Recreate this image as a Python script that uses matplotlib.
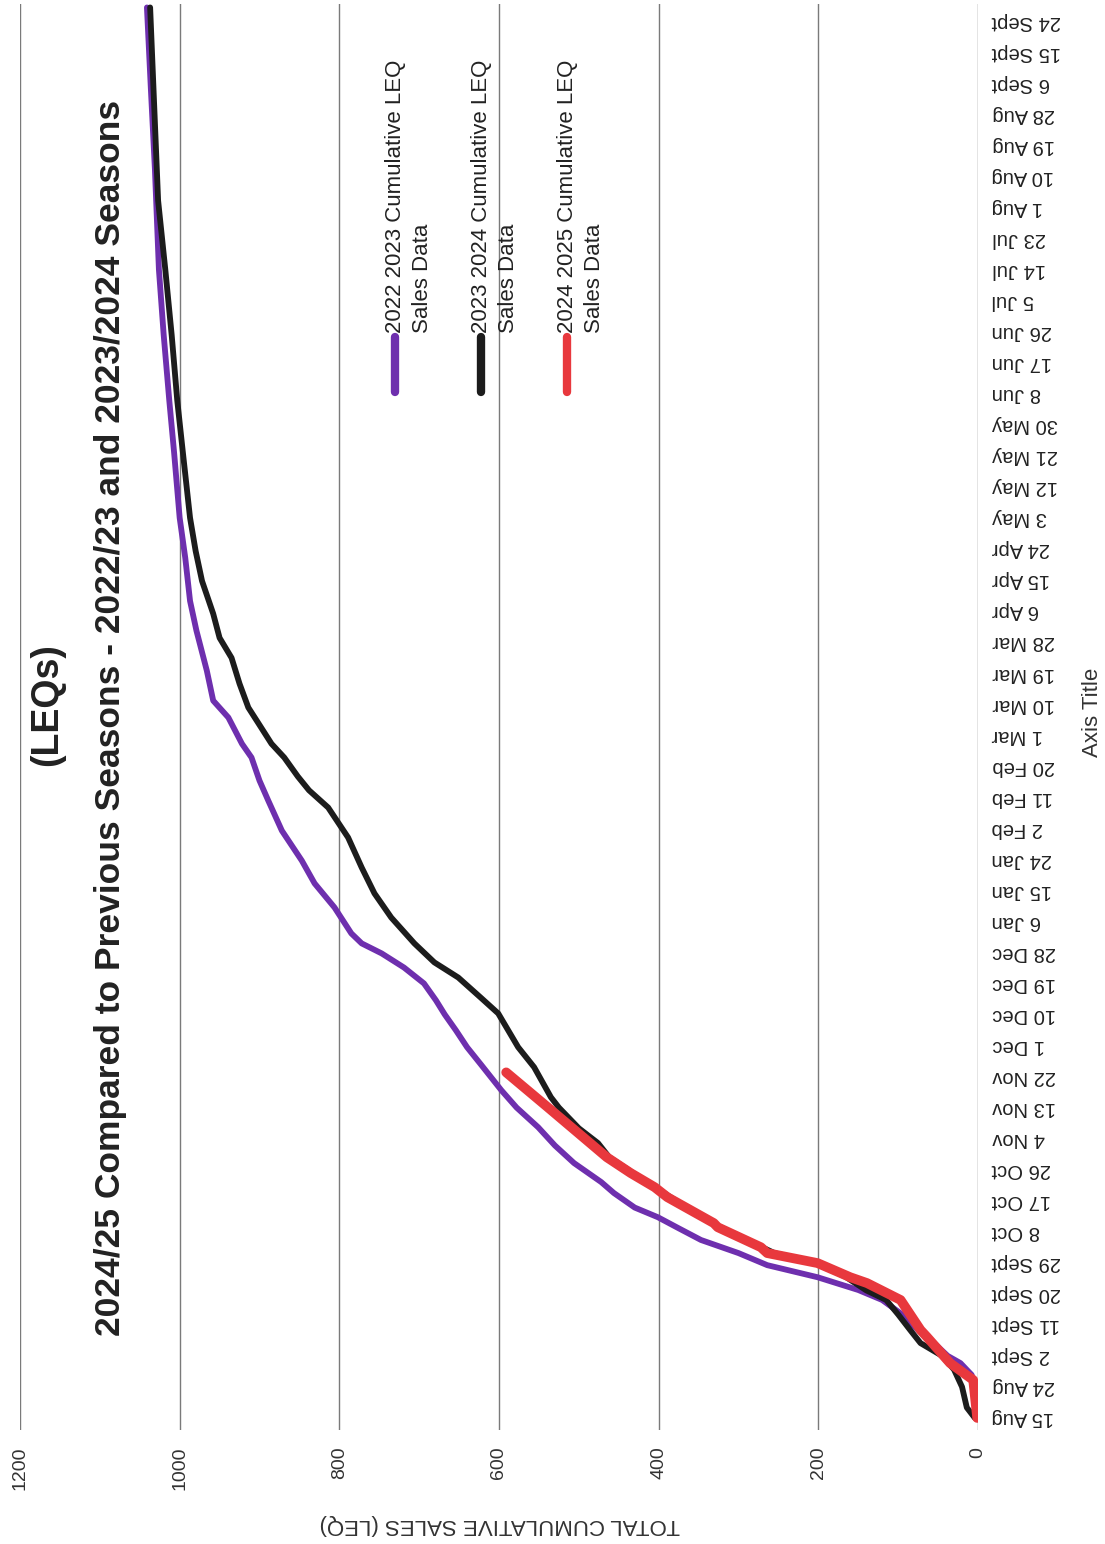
import matplotlib
matplotlib.use("Agg")
import matplotlib.pyplot as plt
from matplotlib.lines import Line2D

# ---- data (day offset from 15 Aug, cumulative LEQ) ----
days_2223 = [0, 9, 12.5, 15.9, 18, 21.7, 25.5, 30, 34.2, 37.1, 40.8, 44.3, 47.8, 51.6, 55, 58.2,
             61, 65.2, 68.4, 73.9, 79, 84.3, 90, 95, 102.3, 107.5, 112.4, 117, 121.1, 126, 130.6,
             134.7, 137.6, 140.5, 148, 155, 161.6, 170.3, 179, 184.8, 191.5, 195.5, 203.1, 208,
             216.7, 228.3, 236.9, 249.4, 261, 280, 295, 314, 333, 362, 385, 409]
vals_2223 = [0, 3, 8, 22, 38, 55, 75, 95, 120, 150, 201, 264, 300, 347, 375, 401,
             430, 456, 472, 506, 530, 551, 578, 597, 622, 640, 654, 668, 679, 694, 719,
             747, 772, 785, 806, 831, 847, 872, 889, 900, 910, 922, 939, 958,
             966, 979, 987, 993, 1000, 1007, 1013, 1020, 1026, 1031, 1036, 1041]

days_2324 = [0, 3, 9, 14, 18, 21.7, 25.5, 30, 34.2, 37, 40.8, 44.9, 47.8, 50, 55, 58, 64, 67, 71,
             75.6, 79.7, 84, 90, 93, 101.7, 107.5, 117.3, 121.7, 127.7, 132.1, 137.6, 145.1,
             152.1, 159.6, 168.3, 177, 182, 186, 191.5, 195.5, 201.3, 206, 212.9, 220.4, 226.2,
             233.2, 242.7, 251.4, 261, 280, 295, 314, 333, 353, 409]
vals_2324 = [4, 14, 20, 30, 45, 72, 85, 100, 115, 140, 165, 200, 255, 275, 320, 345, 385, 405, 432,
             462, 476, 500, 525, 535, 556, 576, 601, 622, 651, 681, 706, 735,
             756, 772, 789, 814, 838, 852, 869, 885, 901, 914, 925, 935, 950,
             958, 972, 980, 987, 996, 1003, 1010, 1018, 1027, 1037]

days_2425 = [0, 11, 15.9, 23.5, 25.5, 34.2, 39.1, 40.8, 44.9, 47.8, 49.5, 55.3, 56.5, 64, 66.9,
             71, 75.6, 80.5, 90.1, 100.2]
vals_2425 = [1, 6, 35, 64, 72, 97, 139, 160, 201, 264, 272, 326, 331, 389, 405,
             435, 465, 490, 539, 591]

series_labels = ["2022 2023 Cumulative LEQ", "2023 2024 Cumulative LEQ", "2024 2025 Cumulative LEQ"]
series_colors = ["#6e2fae", "#1c1c1c", "#e8383d"]

tick_days = list(range(0, 406, 9))
tick_labels = ["15 Aug", "24 Aug", "2 Sept", "11 Sept", "20 Sept", "29 Sept", "8 Oct", "17 Oct",
               "26 Oct", "4 Nov", "13 Nov", "22 Nov", "1 Dec", "10 Dec", "19 Dec", "28 Dec",
               "6 Jan", "15 Jan", "24 Jan", "2 Feb", "11 Feb", "20 Feb", "1 Mar", "10 Mar",
               "19 Mar", "28 Mar", "6 Apr", "15 Apr", "24 Apr", "3 May", "12 May", "21 May",
               "30 May", "8 Jun", "17 Jun", "26 Jun", "5 Jul", "14 Jul", "23 Jul", "1 Aug",
               "10 Aug", "19 Aug", "28 Aug", "6 Sept", "15 Sept", "24 Sept"]
value_ticks = [0, 200, 400, 600, 800, 1000, 1200]

plt.rcParams['font.family'] = ['Liberation Sans', 'DejaVu Sans']

W, H = 1105, 1544
fig = plt.figure(figsize=(W / 100, H / 100), dpi=100)

def fx(px):
    return px / W

def fy(py):
    return 1 - py / H

ax = fig.add_axes([fx(20), fy(1430), fx(978) - fx(20), fy(4) - fy(1430)])
ax.set_xlim(1200, 0)
ax.set_ylim(-3.5, 410)

ax.plot(vals_2223, days_2223, color=series_colors[0], lw=4.2, solid_capstyle='round', zorder=3)
ax.plot(vals_2324, days_2324, color=series_colors[1], lw=4.2, solid_capstyle='round', zorder=4)
ax.plot(vals_2425, days_2425, color=series_colors[2], lw=7, solid_capstyle='round', zorder=5)

ax.set_xticks(value_ticks)
ax.set_xticklabels([str(v) for v in value_ticks])
ax.set_yticks(tick_days)
ax.set_yticklabels(tick_labels)

for s in ax.spines.values():
    s.set_visible(False)
ax.grid(axis='x', color='#7a7a7a', lw=1.0, zorder=1)
ax.grid(axis='y', visible=False)
ax.tick_params(axis='x', length=0, pad=12, labelsize=14, labelrotation=90, colors='#333333')
ax.tick_params(axis='y', length=0, left=False, right=False, labelleft=False, labelright=True,
               labelrotation=180, pad=10, labelsize=14.5, colors='#222222')
for lab in ax.get_yticklabels():
    lab.set_va('center')
    lab.set_ha('left')

# axis titles
fig.text(fx(500), fy(1525), "TOTAL CUMULATIVE SALES (LEQ)", rotation=180, ha='center', va='center',
         fontsize=16, color='#333333')
fig.text(fx(1092), fy(712), "Axis Title", rotation=90, ha='center', va='center',
         fontsize=16, color='#333333')

# titles
fig.text(fx(47), fy(705), "(LEQs)", rotation=90, ha='center', va='center',
         fontsize=27, fontweight='bold', color='#222222')
fig.text(fx(111), fy(718), "2024/25 Compared to Previous Seasons - 2022/23 and 2023/2024 Seasons",
         rotation=90, ha='center', va='center', fontsize=25.5, fontweight='bold', color='#222222')

# legend (drawn manually in rotated frame)
leg_x = [395, 481, 567]
for lx, lab, col in zip(leg_x, series_labels, series_colors):
    fig.add_artist(Line2D([fx(lx), fx(lx)], [fy(392), fy(337)], color=col, lw=6,
                          solid_capstyle='round', transform=fig.transFigure))
    fig.text(fx(lx), fy(333), lab, rotation=90, ha='center', va='bottom', fontsize=16, color='#222222')
    fig.text(fx(lx + 28), fy(333), "Sales Data", rotation=90, ha='center', va='bottom',
             fontsize=16, color='#222222')

fig.savefig("out.png", dpi=100, facecolor='white')
